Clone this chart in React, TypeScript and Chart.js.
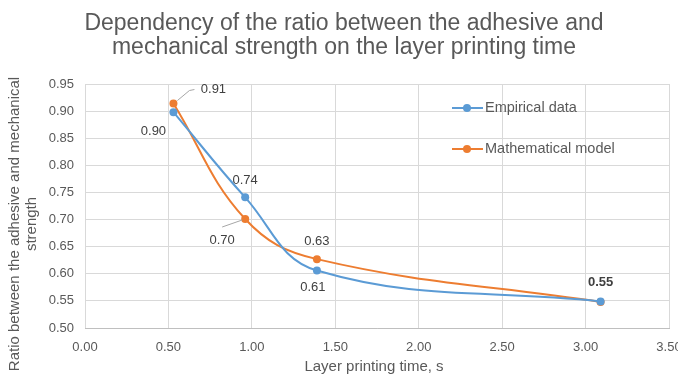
import React, { useEffect, useRef } from "react";
import { Chart, registerables } from "chart.js";

Chart.register(...registerables);

const TITLE_LINES = [
  "Dependency of the ratio between the adhesive and",
  "mechanical strength on the layer printing time",
];
const Y_TITLE_LINES = ["Ratio between the adhesive and mechanical", "strength"];
const X_TITLE = "Layer printing time, s";

const printingTime = [0.53, 0.96, 1.39, 3.09];
const empiricalData = [0.898, 0.741, 0.606, 0.549];
const modelData = [0.914, 0.701, 0.627, 0.548];

const seriesNames = ["Empirical data", "Mathematical model"];
const seriesColors = ["#5B9BD5", "#ED7D31"];

const xTicks = [0, 0.5, 1, 1.5, 2, 2.5, 3, 3.5];
const yTicks = [0.5, 0.55, 0.6, 0.65, 0.7, 0.75, 0.8, 0.85, 0.9, 0.95];

// label placement styles: dataset, point, pixel offset, optional leader line
const labelStyles = [
  { ds: 0, i: 0, dx: -20, dy: 19 },
  { ds: 0, i: 1, dx: 0, dy: -17 },
  { ds: 0, i: 2, dx: -4, dy: 17 },
  { ds: 0, i: 3, dx: 0, dy: -19, bold: true },
  { ds: 1, i: 0, dx: 40, dy: -14, leader: [[4, -3], [16, -13], [21, -14]] },
  { ds: 1, i: 1, dx: -23, dy: 21, leader: [[-3, 1], [-23, 8]] },
  { ds: 1, i: 2, dx: 0, dy: -18 },
];

const FONT = "'Liberation Sans', Arial, sans-serif";
const TEXT = "#595959";

const overlayPlugin = {
  id: "overlay",
  afterDraw(chart: any) {
    const ctx = chart.ctx;
    const area = chart.chartArea;
    ctx.save();
    // title
    ctx.fillStyle = TEXT;
    ctx.font = `23px ${FONT}`;
    ctx.textAlign = "center";
    ctx.textBaseline = "alphabetic";
    ctx.fillText(TITLE_LINES[0], 344, 30);
    ctx.fillText(TITLE_LINES[1], 344, 54);

    // x title
    ctx.font = `15px ${FONT}`;
    ctx.textBaseline = "middle";
    ctx.fillText(X_TITLE, (area.left + area.right) / 2 - 3, 367);

    // y title
    ctx.save();
    ctx.translate(15, 224);
    ctx.rotate(-Math.PI / 2);
    ctx.fillText(Y_TITLE_LINES[0], 0, 0);
    ctx.fillText(Y_TITLE_LINES[1], 0, 17);
    ctx.restore();

    // data labels
    labelStyles.forEach((l) => {
      const meta = chart.getDatasetMeta(l.ds);
      const pt = meta.data[l.i];
      const val = chart.data.datasets[l.ds].data[l.i].y;
      if (l.leader) {
        ctx.strokeStyle = "#A6A6A6";
        ctx.lineWidth = 1;
        ctx.beginPath();
        l.leader.forEach((p: number[], k: number) => {
          if (k === 0) ctx.moveTo(pt.x + p[0], pt.y + p[1]);
          else ctx.lineTo(pt.x + p[0], pt.y + p[1]);
        });
        ctx.stroke();
      }
      ctx.fillStyle = "#404040";
      ctx.font = `${l.bold ? "bold " : ""}13px ${FONT}`;
      ctx.textAlign = "center";
      ctx.textBaseline = "middle";
      ctx.fillText(val.toFixed(2), pt.x + l.dx, pt.y + l.dy);
    });

    // legend
    const legendY = [108, 149];
    seriesNames.forEach((name, k) => {
      const y = legendY[k];
      ctx.strokeStyle = seriesColors[k];
      ctx.lineWidth = 2;
      ctx.beginPath();
      ctx.moveTo(452, y);
      ctx.lineTo(483, y);
      ctx.stroke();
      ctx.fillStyle = seriesColors[k];
      ctx.beginPath();
      ctx.arc(467, y, 4, 0, Math.PI * 2);
      ctx.fill();
      ctx.fillStyle = TEXT;
      ctx.font = `14.5px ${FONT}`;
      ctx.textAlign = "left";
      ctx.textBaseline = "middle";
      ctx.fillText(name, 485, y);
    });
    ctx.restore();
  },
};

export default function App() {
  const ref = useRef<HTMLCanvasElement | null>(null);
  useEffect(() => {
    document.body.style.margin = "0";
    const canvas = ref.current!;
    const mk = (vals: number[]) => printingTime.map((x, i) => ({ x, y: vals[i] }));
    const chart = new Chart(canvas, {
      type: "scatter",
      data: {
        datasets: [
          {
            label: seriesNames[0],
            data: mk(empiricalData),
            borderColor: seriesColors[0],
            backgroundColor: seriesColors[0],
            showLine: true,
            tension: 0.4,
            borderWidth: 2,
            pointRadius: 4,
            pointBorderWidth: 0,
          },
          {
            label: seriesNames[1],
            data: mk(modelData),
            borderColor: seriesColors[1],
            backgroundColor: seriesColors[1],
            showLine: true,
            tension: 0.4,
            borderWidth: 2,
            pointRadius: 4,
            pointBorderWidth: 0,
          },
        ],
      },
      options: {
        responsive: false,
        animation: false,
        layout: { padding: { top: 84, right: 9, left: 0, bottom: 0 } },
        plugins: {
          legend: { display: false },
          title: { display: false },
          tooltip: { enabled: false },
        },
        scales: {
          x: {
            type: "linear",
            min: xTicks[0],
            max: xTicks[xTicks.length - 1],
            afterBuildTicks: (s: any) => {
              s.ticks = xTicks.map((v) => ({ value: v }));
            },
            afterFit: (s: any) => {
              s.height = 48;
              s.paddingLeft = 0;
              s.paddingRight = 0;
            },
            ticks: {
              color: TEXT,
              font: { family: FONT, size: 13 },
              padding: 12,
              maxRotation: 0,
              callback: (v: any) => Number(v).toFixed(2),
            },
            grid: { color: "#D9D9D9", drawTicks: false },
            border: { color: "#BFBFBF", width: 1 },
          },
          y: {
            type: "linear",
            min: yTicks[0],
            max: yTicks[yTicks.length - 1],
            afterBuildTicks: (s: any) => {
              s.ticks = yTicks.map((v) => ({ value: v }));
            },
            afterFit: (s: any) => {
              s.width = 85;
              s.paddingTop = 0;
              s.paddingBottom = 0;
            },
            ticks: {
              color: TEXT,
              font: { family: FONT, size: 13 },
              padding: 11,
              callback: (v: any) => Number(v).toFixed(2),
            },
            grid: { color: "#D9D9D9", drawTicks: false },
            border: { display: false },
          },
        },
      },
      plugins: [overlayPlugin],
    });
    return () => chart.destroy();
  }, []);
  return (
    <div style={{ position: "absolute", left: 0, top: 0, width: 678, height: 376, background: "#fff" }}>
      <canvas ref={ref} width={678} height={376} />
    </div>
  );
}
